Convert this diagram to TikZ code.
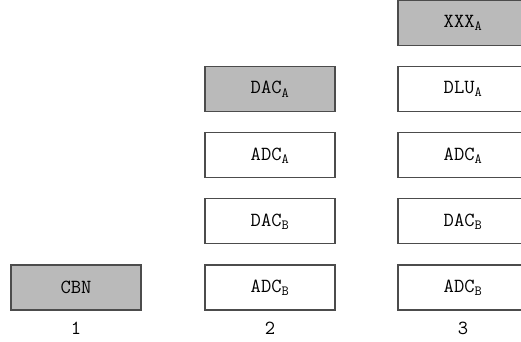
\documentclass[tikz,border=0pt]{standalone}
\usepackage{fontspec}
\usetikzlibrary{positioning}

\begin{document}
\begin{tikzpicture}[x=1pt, y=-1pt, node distance=20pt,
    unit/.style={draw=black!70, line width=1.1pt, minimum width=130pt,
      minimum height=45pt, inner sep=0pt,
      font=\ttfamily\fontsize{20}{24}\selectfont},
    busy/.style={unit, fill=black!27},
    colnum/.style={font=\ttfamily\fontsize{20}{24}\selectfont}]
    \useasboundingbox (0,0) rectangle (521,341);
    % column 1
    \node[busy] (cbn) at (76,287.5) {CBN};
    \node[colnum] (num1) at (76,328) {1};
    % column 2
    \node[unit] (adcb2) at (270,287.5) {ADC\textsubscript{B}};
    \node[unit, above=of adcb2] (dacb2) {DAC\textsubscript{B}};
    \node[unit, above=of dacb2] (adca2) {ADC\textsubscript{A}};
    \node[busy, above=of adca2] (daca2) {DAC\textsubscript{A}};
    \node[colnum] (num2) at (270,328) {2};
    % column 3
    \node[unit] (adcb3) at (463,287.5) {ADC\textsubscript{B}};
    \node[unit, above=of adcb3] (dacb3) {DAC\textsubscript{B}};
    \node[unit, above=of dacb3] (adca3) {ADC\textsubscript{A}};
    \node[unit, above=of adca3] (dlua3) {DLU\textsubscript{A}};
    \node[busy, above=of dlua3] (xxxa3) {XXX\textsubscript{A}};
    \node[colnum] (num3) at (463,328) {3};
\end{tikzpicture}
\end{document}
